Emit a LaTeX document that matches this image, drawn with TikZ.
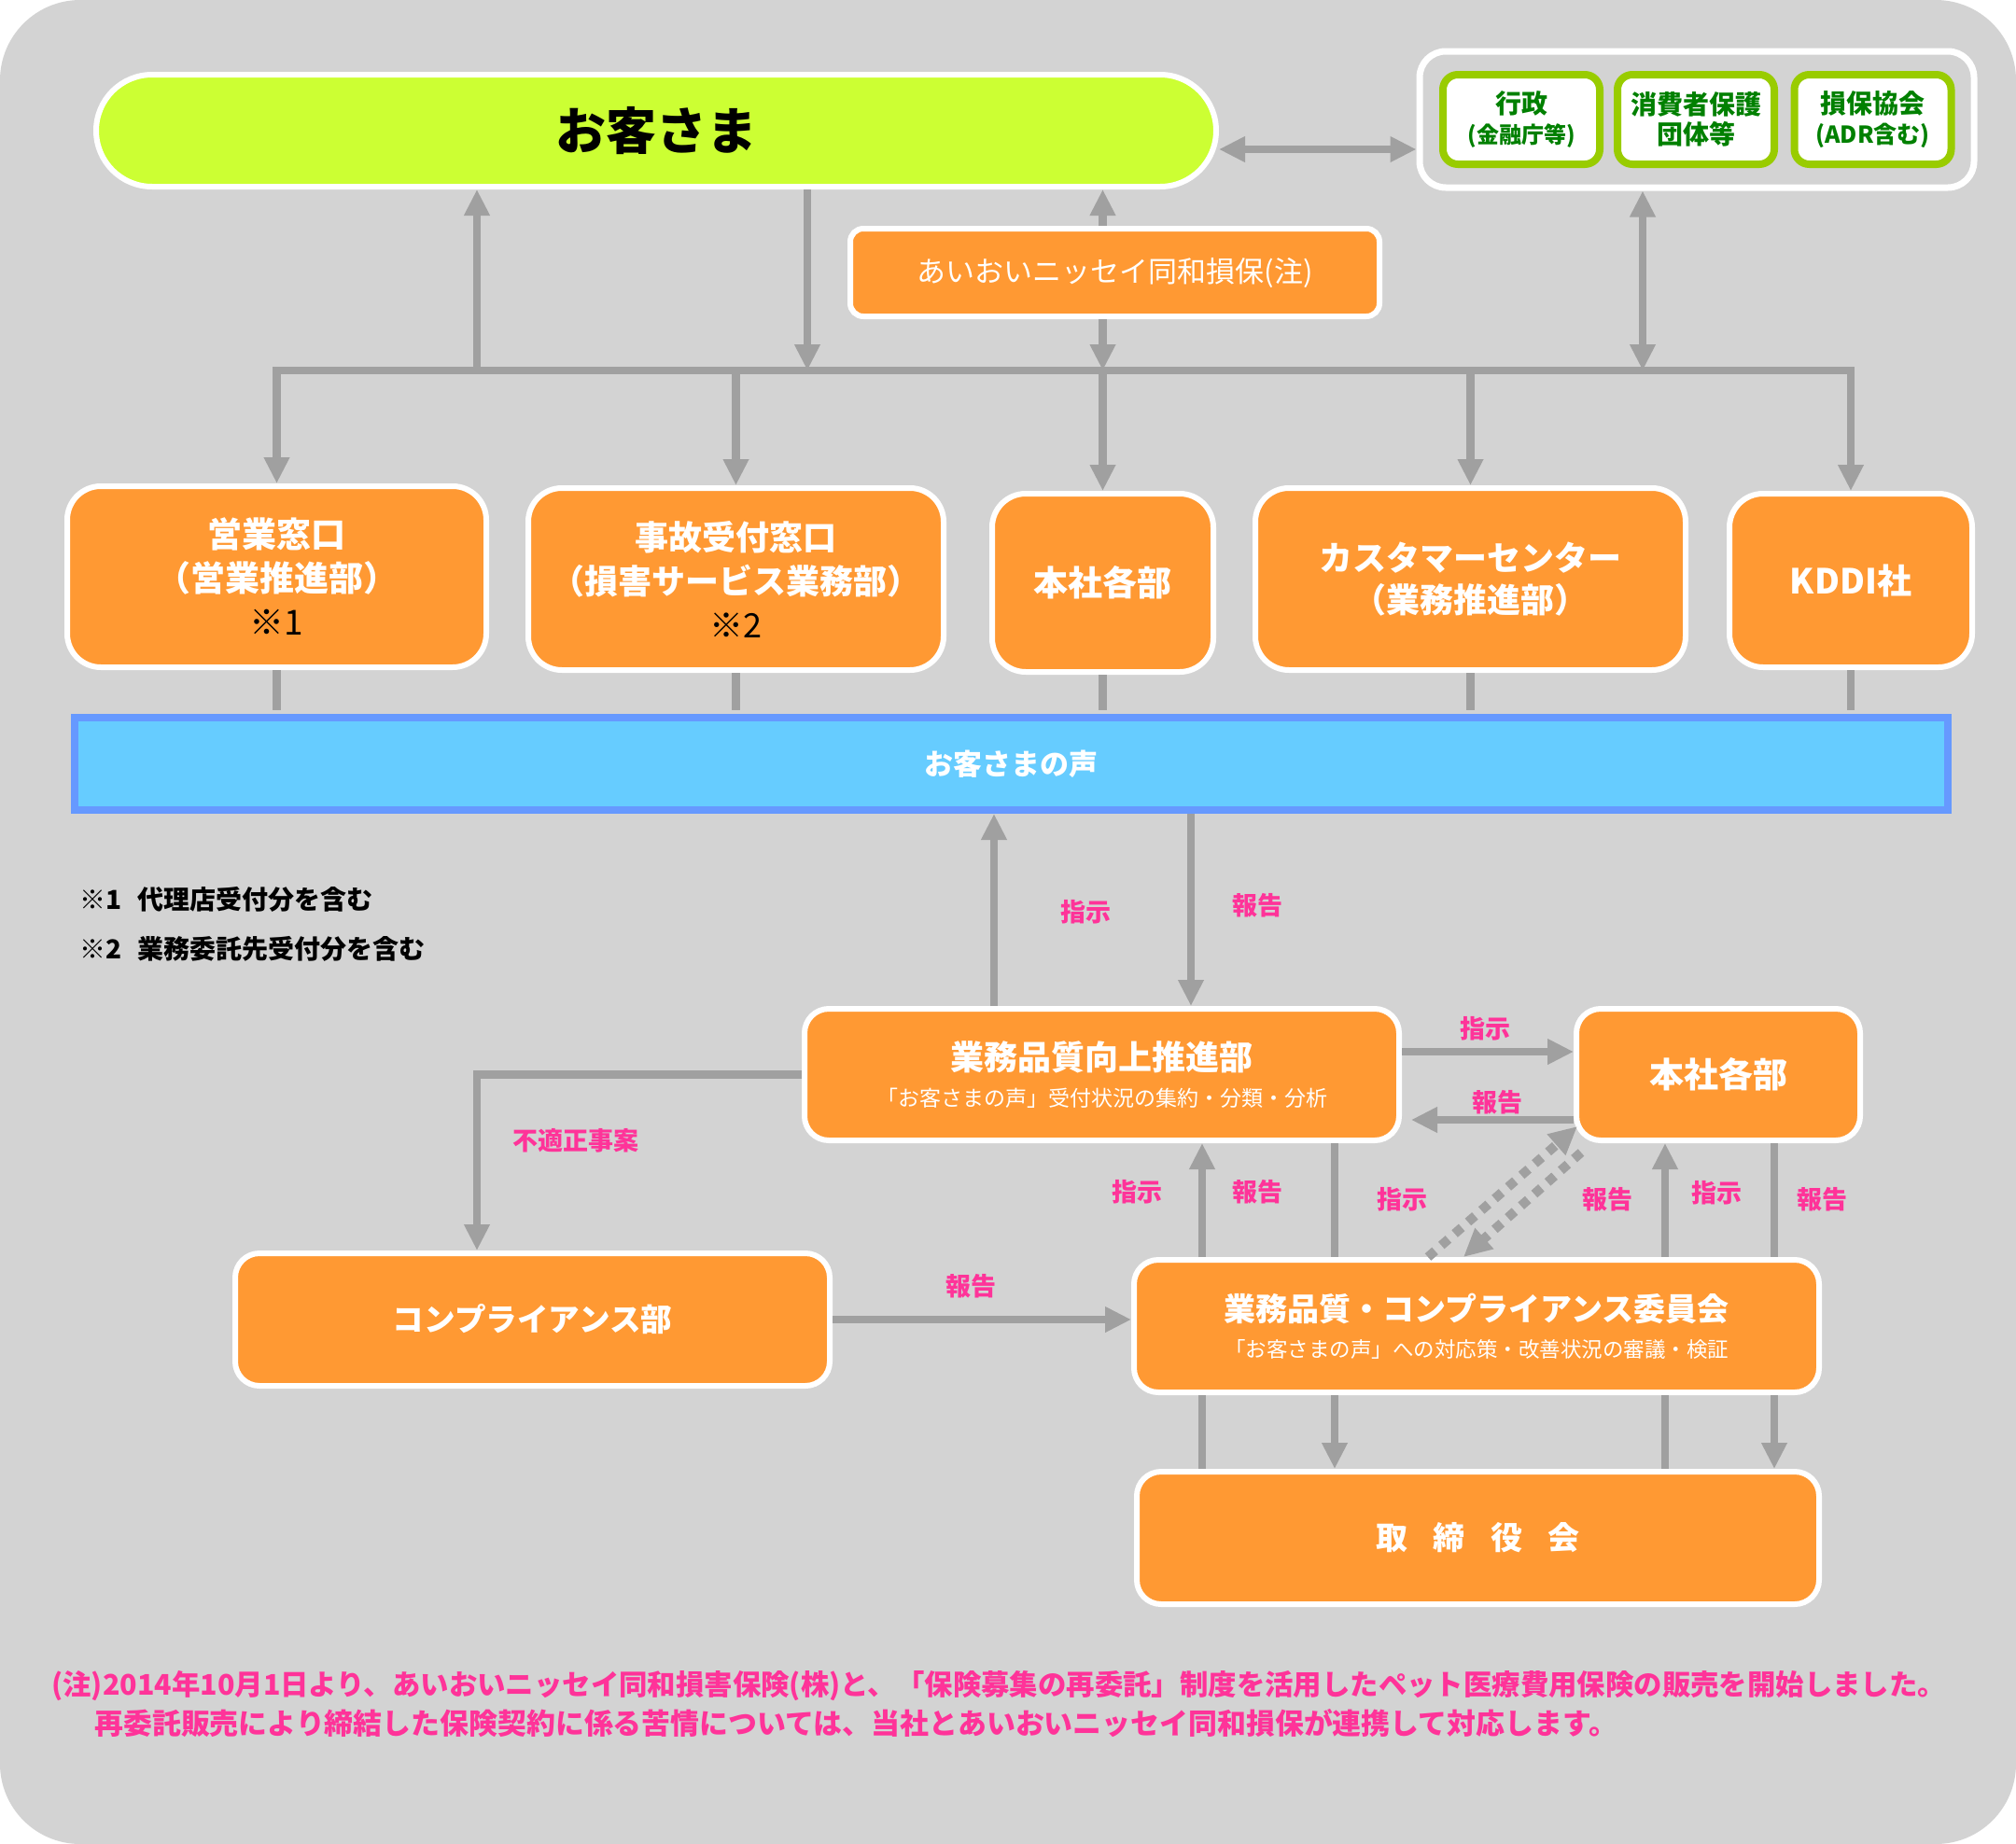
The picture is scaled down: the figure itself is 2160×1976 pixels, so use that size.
\documentclass[tikz,border=0pt]{standalone}
\usepackage{fontspec}
\setmainfont{Noto Sans CJK JP}
\usetikzlibrary{arrows.meta,calc}
\definecolor{bggray}{HTML}{D3D3D3}
\definecolor{orng}{HTML}{FF9933}
\definecolor{arrgray}{HTML}{A0A0A0}
\definecolor{limeg}{HTML}{CCFF33}
\definecolor{vfill}{HTML}{66CCFF}
\definecolor{vline}{HTML}{6699FF}
\definecolor{grnb}{HTML}{99CC00}
\definecolor{grnt}{HTML}{008000}
\definecolor{pinkc}{HTML}{FF3399}
\tikzset{
  obox/.style={draw=white, line width=3pt, fill=orng, rounded corners=18pt, text=white, align=center, inner sep=0pt,
    font=\bfseries\fontsize{18.5}{23.5}\selectfont},
  wbox/.style={obox, rounded corners=13pt, minimum height=70.5pt},
  gbox/.style={draw=grnb, line width=4pt, fill=white, rounded corners=8pt, minimum width=84pt, minimum height=48pt,
    text=grnt, align=center, inner sep=0pt, font=\bfseries\fontsize{14}{16}\selectfont},
  ln/.style={draw=arrgray, line width=4.2pt},
  arr/.style={ln, -{Triangle[width=13pt,length=14pt]}},
  arrb/.style={ln, {Triangle[width=13pt,length=14pt]}-{Triangle[width=13pt,length=14pt]}},
  dotarr/.style={draw=arrgray, line width=5pt, dash pattern=on 5pt off 4.5pt, -{Triangle[width=14pt,length=15pt]}},
  lbl/.style={text=pinkc, inner sep=0pt, font=\bfseries\fontsize{13.5}{16}\selectfont},
}
\begin{document}
\begin{tikzpicture}[x=0.5pt,y=-0.5pt]
\useasboundingbox (0,0) rectangle (2160,1976);
\fill[white] (0,0) rectangle (2160,1976);
\fill[bggray, rounded corners=43pt] (0,0) rectangle (2160,1976);

% top
\node[obox, fill=limeg, rounded corners=30pt, minimum width=600pt, minimum height=60pt, text=black,
  font=\bfseries\fontsize{27}{32}\selectfont] (cust) at (703,140) {お客さま};
\node[draw=white, line width=3.5pt, rounded corners=14pt, minimum width=297pt, minimum height=73pt] (grp) at (1818,128) {};
\node[gbox] (gyosei) at (1630,128) {行政\\{\fontsize{12}{14}\selectfont (金融庁等)}};
\node[gbox] (shohi) at (1817,128) {消費者保護\\団体等};
\node[gbox] (sonpo) at (2006.5,128) {損保協会\\{\fontsize{12.5}{14}\selectfont (ADR含む)}};
\node[obox, rounded corners=7pt, minimum width=283.5pt, minimum height=47pt, font=\fontsize{15.5}{18}\selectfont] (aioi) at (1194.5,292) {あいおいニッセイ同和損保(注)};

% row of receiving desks
\node[obox, minimum width=224.5pt, minimum height=97pt] (eigyo) at (296.5,618) {営業窓口\\（営業推進部）\\{\mdseries\color{black}※1}};
\node[obox, minimum width=222.5pt, minimum height=97.5pt, font=\bfseries\fontsize{18}{23.5}\selectfont] (jiko) at (788.5,620.5) {事故受付窓口\\（損害サービス業務部）\\{\mdseries\color{black}※2}};
\node[obox, minimum width=118.5pt, minimum height=95.5pt] (hq1) at (1181.5,624.5) {本社各部};
\node[obox, minimum width=230.5pt, minimum height=97.5pt, font=\bfseries\fontsize{18}{22.5}\selectfont] (cc) at (1575.5,620.5) {カスタマーセンター\\（業務推進部）};
\node[obox, minimum width=130pt, minimum height=93pt] (kddi) at (1983,622) {KDDI社};

% voice bar
\node[draw=vline, line width=4pt, fill=vfill, minimum width=1003.5pt, minimum height=49.5pt, text=white, inner sep=0pt,
  font=\bfseries\fontsize{15.5}{18}\selectfont] (bar) at (1083.5,818.5) {お客さまの声};

% footnotes
\node[anchor=west, inner sep=0pt, font=\bfseries\fontsize{14}{16}\selectfont] (fn1) at (85,964) {※1\hspace{0.6em}代理店受付分を含む};
\node[anchor=west, inner sep=0pt, font=\bfseries\fontsize{14}{16}\selectfont] (fn2) at (85,1017) {※2\hspace{0.6em}業務委託先受付分を含む};

% lower part
\node[wbox, minimum width=318.5pt] (qual) at (1180.5,1151.5) {{\fontsize{18}{20}\selectfont 業務品質向上推進部}\\[-4pt]{\mdseries\fontsize{11.5}{14}\selectfont 「お客さまの声」受付状況の集約・分類・分析}};
\node[wbox, minimum width=152pt] (hq2) at (1841,1151.5) {本社各部};
\node[wbox, minimum width=318.5pt, minimum height=71pt, font=\bfseries\fontsize{16.8}{20}\selectfont] (comp) at (570.5,1414) {コンプライアンス部};
\node[wbox, minimum width=367pt, minimum height=71pt] (comm) at (1582,1421) {{\fontsize{17}{19}\selectfont 業務品質・コンプライアンス委員会}\\[-4pt]{\mdseries\fontsize{11.25}{14}\selectfont 「お客さまの声」への対応策・改善状況の審議・検証}};
\node[wbox, minimum width=365.5pt, minimum height=71pt, font=\bfseries\fontsize{17}{20}\selectfont] (board) at (1583.5,1648) {取\hspace{0.8em}締\hspace{0.8em}役\hspace{0.8em}会};

% note
\node[anchor=west, inner sep=0pt, text=pinkc, font=\bfseries\fontsize{15.2}{18}\selectfont] (note1) at (55,1807) {(注)2014年10月1日より、あいおいニッセイ同和損害保険(株)と、「保険募集の再委託」制度を活用したペット医療費用保険の販売を開始しました。};
\node[anchor=west, inner sep=0pt, text=pinkc, font=\bfseries\fontsize{15.45}{18}\selectfont] (note2) at (101,1847) {再委託販売により締結した保険契約に係る苦情については、当社とあいおいニッセイ同和損保が連携して対応します。};

% connectors top
\coordinate (busL) at (eigyo.north |- 0,397);
\coordinate (busR) at (kddi.north |- 0,397);
\draw[arrb] (eigyo.north) -- (busL) -- (busR) -- (kddi.north);
\draw[arr] (jiko.north |- busL) -- (jiko.north);
\draw[arr] (hq1.north |- busL) -- (hq1.north);
\draw[arr] (cc.north |- busL) -- (cc.north);
\draw[arr] (busL -| 511,0) -- (cust.south -| 511,0);
\draw[arr] (cust.south -| 865,0) -- (busL -| 865,0);
\draw[arr] (aioi.north -| hq1.north) -- (cust.south -| hq1.north);
\draw[arr] (aioi.south -| hq1.north) -- (busL -| hq1.north);
\draw[arrb] (grp.south -| 1760,0) -- (busL -| 1760,0);
\draw[arrb] (cust.east |- 0,160) -- (grp.west |- 0,160);

% boxes to bar
\draw[ln, shorten >=2pt] (eigyo.south) -- (eigyo.south |- bar.north);
\draw[ln, shorten >=2pt] (jiko.south) -- (jiko.south |- bar.north);
\draw[ln, shorten >=2pt] (hq1.south) -- (hq1.south |- bar.north);
\draw[ln, shorten >=2pt] (cc.south) -- (cc.south |- bar.north);
\draw[ln, shorten >=2pt] (kddi.south) -- (kddi.south |- bar.north);

% bar <-> qual
\draw[arr] (qual.north -| 1065,0) -- (bar.south -| 1065,0);
\draw[arr] (bar.south -| 1276,0) -- (qual.north -| 1276,0);
\node[lbl] (l1) at (1163,977) {指示};
\node[lbl] (l2) at (1347,970) {報告};

% qual <-> hq2
\draw[arr] (qual.east |- 0,1127) -- (hq2.west |- 0,1127);
\draw[arr, shorten >=5pt] (hq2.west |- 0,1200) -- (qual.east |- 0,1200);
\node[lbl] (l3) at (1591,1102) {指示};
\node[lbl] (l4) at (1604,1181) {報告};

% compliance
\draw[arr] (qual.west) -| (comp.north -| 511,0);
\node[lbl] (l5) at (617,1222) {不適正事案};
\draw[arr] (comp.east) -- (comp.east -| comm.west);
\node[lbl] (l6) at (1040,1378) {報告};

% comm <-> qual / hq2
\draw[arr] (comm.north -| 1288,0) -- (qual.south -| 1288,0);
\draw[ln] (qual.south -| 1430,0) -- (comm.north -| 1430,0);
\draw[arr] (comm.north -| 1784,0) -- (hq2.south -| 1784,0);
\draw[ln] (hq2.south -| 1901,0) -- (comm.north -| 1901,0);
\draw[dotarr] ([xshift=-26pt]comm.north) -- ([xshift=2pt,yshift=9pt]hq2.south west);
\draw[dotarr] ([xshift=4pt,yshift=-5pt]hq2.south west) -- ([xshift=-7pt]comm.north);
\node[lbl] (l7) at (1218,1277) {指示};
\node[lbl] (l8) at (1347,1277) {報告};
\node[lbl] (l9) at (1502,1285) {指示};
\node[lbl] (l10) at (1722,1285) {報告};
\node[lbl] (l11) at (1839,1278) {指示};
\node[lbl] (l12) at (1952,1285) {報告};

% comm -> board
\draw[ln] (comm.south -| 1288,0) -- (board.north -| 1288,0);
\draw[arr] (comm.south -| 1430,0) -- (board.north -| 1430,0);
\draw[ln] (comm.south -| 1784,0) -- (board.north -| 1784,0);
\draw[arr] (comm.south -| 1901,0) -- (board.north -| 1901,0);
\end{tikzpicture}
\end{document}
